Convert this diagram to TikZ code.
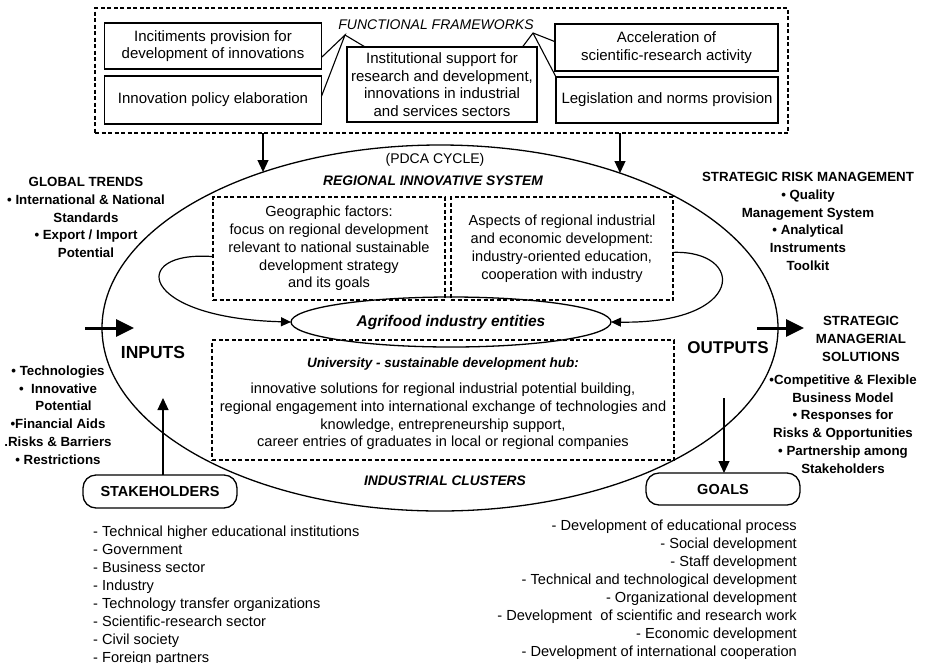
\documentclass[tikz,border=0pt]{standalone}
\usepackage{fontspec}
\setmainfont{Liberation Sans}
\usetikzlibrary{shapes.geometric,arrows.meta}

\begin{document}
\begin{tikzpicture}[x=1pt,y=-1pt,
  solidbox/.style={draw,line width=1.3pt,inner sep=0pt,outer sep=0pt,align=center,
    font=\fontsize{15}{17.5}\selectfont},
  dbox/.style={draw,line width=1.1pt,dash pattern=on 4pt off 2.5pt,inner sep=0pt,outer sep=0pt,align=center},
  roundbox/.style={draw,line width=1.3pt,rounded corners=13pt,inner sep=0pt,outer sep=0pt,
    font=\fontsize{14.5}{17}\selectfont\bfseries},
  sidetext/.style={align=center,inner sep=0pt,font=\fontsize{13.3}{17.8}\selectfont\bfseries},
  listtext/.style={inner sep=0pt,font=\fontsize{14.6}{18}\selectfont},
  ttl/.style={inner sep=0pt,font=\fontsize{13.8}{16}\selectfont\bfseries\itshape},
  arr/.style={line width=1.2pt,-{Triangle[length=12pt,width=11pt]}},
  looparr/.style={line width=1.2pt,-{Triangle[length=10pt,width=9pt]}},
  bigarr/.style={line width=3pt,-{Triangle[length=18pt,width=17pt]}},
  link/.style={line width=1.1pt}
]
\useasboundingbox (0,0) rectangle (925,662);

% ---- functional frameworks block ----
\node[dbox,minimum width=693pt,minimum height=125pt] (ffbox) at (441.5,70.5) {};
\node[inner sep=0pt,font=\fontsize{14}{16}\selectfont\itshape] (fft) at (436,25) {FUNCTIONAL FRAMEWORKS};
\coordinate (fl) at (345,35);
\coordinate (fr) at (533,33);

\node[solidbox,minimum width=217pt,minimum height=46pt] (b1) at (213,46)
  {Incitiments provision for\\development of innovations};
\node[solidbox,minimum width=217pt,minimum height=48pt] (b2) at (213,100)
  {Innovation policy elaboration};
\node[solidbox,minimum width=190pt,minimum height=75pt] (b3) at (442,84.5)
  {Institutional support for\\research and development,\\innovations in industrial\\and services sectors};
\node[solidbox,minimum width=223pt,minimum height=47pt] (b4) at (666.5,47.5)
  {Acceleration of\\scientific-research activity};
\node[solidbox,minimum width=222pt,minimum height=46pt] (b5) at (667,100)
  {Legislation and norms provision};

\draw[link] (b1.-6) -- (fl) -- (b2.2);
\draw[link] (fl) -- (b3.154);
\draw[link] (b3.25) -- (fr) -- (b4.177);
\draw[link] (fr) -- (b5.north west);

% ---- regional innovative system ----
\node[ellipse,draw,line width=1.3pt,inner sep=0pt,outer sep=0pt,
  minimum width=676pt,minimum height=366pt] (rs) at (440,328) {};

\coordinate (t1) at (263,172);
\coordinate (t2) at (620,173);
\draw[arr] (ffbox.south -| t1) -- (t1);
\draw[arr] (ffbox.south -| t2) -- (t2);

\node[inner sep=0pt,font=\fontsize{14}{16}\selectfont] (pdca) at (435,160) {(PDCA CYCLE)};
\node[ttl] (ris) at (433,181) {REGIONAL INNOVATIVE SYSTEM};
\node[ttl] (ic) at (445,481) {INDUSTRIAL CLUSTERS};

\node[dbox,minimum width=232pt,minimum height=103pt,font=\fontsize{14.6}{17.8}\selectfont] (geo) at (329,248.5)
  {Geographic factors:\\focus on regional development\\relevant to national sustainable\\development strategy\\and its goals};
\node[dbox,minimum width=222pt,minimum height=103pt,font=\fontsize{14.6}{18}\selectfont] (asp) at (562,248.5)
  {Aspects of regional industrial\\and economic development:\\industry-oriented education,\\cooperation with industry};

\node[ellipse,draw,line width=1.3pt,inner sep=0pt,outer sep=0pt,minimum width=320pt,minimum height=50pt,
  font=\fontsize{15.5}{18}\selectfont\bfseries\itshape] (agri) at (451,322) {Agrifood industry entities};

\node[dbox,minimum width=462pt,minimum height=120pt] (uni) at (443,400) {};
\node[inner sep=0pt,font=\fontsize{13.5}{16}\selectfont\bfseries\itshape] (unit) at (443,364)
  {University - sustainable development hub:};
\node[inner sep=0pt,align=center,font=\fontsize{14.6}{17.7}\selectfont] (unib) at (443,416.5)
  {innovative solutions for regional industrial potential building,\\
   regional engagement into international exchange of technologies and\\
   knowledge, entrepreneurship support,\\
   career entries of graduates in local or regional companies};

\draw[looparr] (geo.184) .. controls (128,250) and (138,318) .. (agri.west);
\draw[looparr] (asp.-2) .. controls (746,250) and (746,324) .. (agri.east);

% ---- inputs / outputs ----
\coordinate (ia) at (85,328);
\coordinate (ib) at (134,328);
\coordinate (oa) at (757,328);
\coordinate (ob) at (804,328);
\draw[bigarr] (ia) -- (ib);
\draw[bigarr] (oa) -- (ob);
\node[inner sep=0pt,font=\fontsize{17.5}{20}\selectfont\bfseries] (inp) at (153,352) {INPUTS};
\node[inner sep=0pt,font=\fontsize{17}{20}\selectfont\bfseries] (outp) at (728,348) {OUTPUTS};

\node[sidetext] (gt) at (86,217.5)
  {GLOBAL TRENDS\\• International \& National\\Standards\\• Export / Import\\Potential};
\node[sidetext] (inl) at (58,415)
  {• Technologies\\•\ \ Innovative\\\ \ \ Potential\\•Financial Aids\\.Risks \& Barriers\\• Restrictions};
\node[sidetext] (srm) at (808,221.5)
  {STRATEGIC RISK MANAGEMENT\\• Quality\\Management System\\• Analytical\\Instruments\\Toolkit};
\node[sidetext] (sms) at (861,339)
  {STRATEGIC\\MANAGERIAL\\SOLUTIONS};
\node[sidetext] (smsl) at (843,424)
  {•Competitive \& Flexible\\Business Model\\• Responses for\\Risks \& Opportunities\\• Partnership among\\Stakeholders};

% ---- stakeholders and goals ----
\node[roundbox,minimum width=154pt,minimum height=33pt] (stk) at (160,491.5) {STAKEHOLDERS};
\node[roundbox,minimum width=154pt,minimum height=32pt] (goals) at (723,489) {GOALS};
\coordinate (sa) at (163,398);
\coordinate (ga) at (724,398);
\draw[arr] (stk.north -| sa) -- (sa);
\draw[arr] (ga) -- (goals.north -| ga);

\node[listtext,align=left,anchor=north west] (stkl) at (93,526)
  {- Technical higher educational institutions\\
   - Government\\
   - Business sector\\
   - Industry\\
   - Technology transfer organizations\\
   - Scientific-research sector\\
   - Civil society\\
   - Foreign partners};
\node[listtext,align=right,anchor=north east] (goall) at (797,520)
  {- Development of educational process\\
   - Social development\\
   - Staff development\\
   - Technical and technological development\\
   - Organizational development\\
   - Development \ of scientific and research work\\
   - Economic development\\
   - Development of international cooperation};
\end{tikzpicture}
\end{document}
